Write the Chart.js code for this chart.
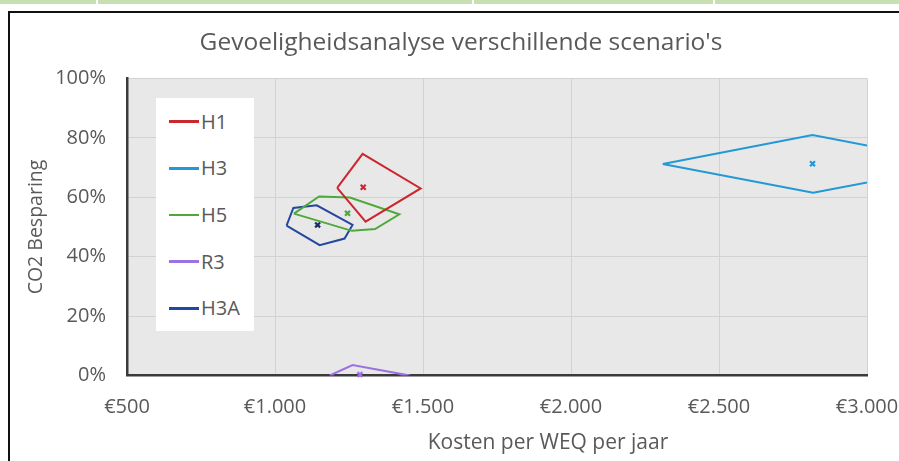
<!DOCTYPE html>
<html>
<head>
<meta charset="utf-8">
<script src="https://cdn.jsdelivr.net/npm/chart.js@4/dist/chart.umd.min.js"></script>
<style>
  html, body { margin: 0; padding: 0; background: #fff; }
  #wrap   { position: relative; width: 899px; height: 461px; overflow: hidden; }
  #strip  { position: absolute; left: 0; top: 0; width: 899px; height: 4px; background: #c6e0b4; }
  .sep    { position: absolute; top: 0; width: 2px; height: 4px; background: #fff; }
  #frame  { position: absolute; left: 8px; top: 11px; width: 1000px; height: 1000px;
            border-left: 2px solid #111; border-top: 2px solid #111; pointer-events: none; }
  #chart  { position: absolute; left: 0; top: 0; }
  #legend { position: absolute; left: 156px; top: 98px; width: 98px; height: 233px; background: #fff;
            font-family: 'Open Sans', sans-serif; font-size: 20px; color: #595959; }
  .item   { position: absolute; left: 13px; height: 24px; line-height: 24px; display: flex; align-items: center; }
  .item i { display: inline-block; width: 30px; height: 2.5px; margin-right: 2px; }
</style>
</head>
<body>
<div id="wrap">
  <div id="strip"></div>
  <div class="sep" style="left:96px"></div>
  <div class="sep" style="left:472px"></div>
  <div class="sep" style="left:713px"></div>
  <canvas id="chart" width="899" height="461"></canvas>
  <div id="frame"></div>
  <div id="legend"></div>
</div>
<script>
// ── Gevoeligheidsanalyse: kosten per WEQ vs CO2 besparing ────────────────
const TITLE   = "Gevoeligheidsanalyse verschillende scenario's";
const X_TITLE = 'Kosten per WEQ per jaar';
const Y_TITLE = 'CO2 Besparing';

const X_MIN = 500, X_MAX = 3000, X_STEP = 500;
const Y_MIN = 0,   Y_MAX = 100,  Y_STEP = 20;

// omtrek (gesloten polygoon) per scenario
const H1_X  = [1210, 1296, 1492, 1306, 1210];
const H1_Y  = [63.2, 74.6, 63.0, 51.8, 63.2];
const H3_X  = [2310, 2816, 3327, 2818, 2310];
const H3_Y  = [71.2, 81.0, 71.2, 61.5, 71.2];
const H5_X  = [1064, 1149, 1253, 1420, 1338, 1260, 1064];
const H5_Y  = [54.5, 60.3, 59.9, 54.3, 49.3, 48.7, 54.5];
const R3_X  = [1185, 1262, 1445, 1300, 1185];
const R3_Y  = [0.0, 3.5, 0.2, -3.5, 0.0];
const H3A_X = [1039, 1062, 1141, 1262, 1235, 1151, 1039];
const H3A_Y = [50.5, 56.4, 57.3, 50.7, 46.1, 43.9, 50.5];

// middelpunt per scenario
const SCEN  = ['H1', 'H3', 'H5', 'R3', 'H3A'];
const MID_X = [1298, 2816, 1245, 1287, 1144];
const MID_Y = [63.4, 71.3, 54.6, 0.3, 50.7];

const COLORS     = ['#c8282e', '#2299d4', '#4fa83a', '#9b72e2', '#2448a0'];
const MID_COLORS = ['#c8282e', '#2299d4', '#4fa83a', '#9b72e2', '#1c2b5a'];
const TEXT_COLOR = '#595959';
const FONT       = "'Open Sans', sans-serif";

const OUTLINES = [[H1_X, H1_Y], [H3_X, H3_Y], [H5_X, H5_Y], [R3_X, R3_Y], [H3A_X, H3A_Y]];

const toPts = (xs, ys) => xs.map((x, i) => ({ x, y: ys[i] }));
const euro  = v => '€' + String(v).replace(/\B(?=(\d{3})+(?!\d))/g, '.');

const datasets = [];
SCEN.forEach((name, i) => {
  datasets.push({
    label:       name,
    data:        toPts(OUTLINES[i][0], OUTLINES[i][1]),
    showLine:    true,
    borderColor: COLORS[i],
    borderWidth: 2,
    pointRadius: 0,
    tension:     0,
    clip:        0
  });
});
SCEN.forEach((name, i) => {
  datasets.push({
    label:           name + ' midden',
    data:            [{ x: MID_X[i], y: MID_Y[i] }],
    showLine:        false,
    pointStyle:      'crossRot',
    pointRadius:     3.5,
    borderColor:     MID_COLORS[i],
    backgroundColor: MID_COLORS[i],
    borderWidth:     2.2,
    clip:            4
  });
});

const plotBg = {
  id: 'plotBg',
  beforeDraw(chart) {
    const { ctx, chartArea: a } = chart;
    ctx.save();
    ctx.fillStyle = '#e8e8e8';
    ctx.fillRect(a.left, a.top, a.right - a.left, a.bottom - a.top);
    ctx.restore();
  }
};

// grafiektitel en x-as titel, gecentreerd zoals in het Excel-origineel
const titles = {
  id: 'titles',
  afterDraw(chart) {
    const { ctx } = chart;
    ctx.save();
    ctx.fillStyle = TEXT_COLOR;
    ctx.textAlign = 'center';
    ctx.textBaseline = 'middle';
    ctx.font = `24.5px ${FONT}`;
    ctx.fillText(TITLE, 461, 43);
    ctx.font = `21px ${FONT}`;
    ctx.fillText(X_TITLE, 548, 443);
    ctx.restore();
  }
};

const chart = new Chart(document.getElementById('chart'), {
  type: 'scatter',
  data: { datasets },
  plugins: [plotBg, titles],
  options: {
    responsive: false,
    animation:  false,
    layout:     { padding: { left: 0, right: 32, top: 78.5, bottom: 0 } },
    plugins: {
      legend:  { display: false },
      tooltip: { enabled: false }
    },
    scales: {
      x: {
        type: 'linear', min: X_MIN, max: X_MAX,
        ticks:  { stepSize: X_STEP, autoSkip: false, maxRotation: 0, padding: 20,
                  color: TEXT_COLOR, font: { family: FONT, size: 20 }, callback: v => euro(v) },
        grid:   { color: '#d2d2d2', drawTicks: false },
        border: { color: '#3a3a3a', width: 2.5 },
        afterFit(s) { s.height = 85.5; s.paddingLeft = 0; s.paddingRight = 0; }
      },
      y: {
        min: Y_MIN, max: Y_MAX,
        ticks:  { stepSize: Y_STEP, padding: 21, color: TEXT_COLOR,
                  font: { family: FONT, size: 20 }, callback: v => v + '%' },
        grid:   { color: '#d2d2d2', drawTicks: false },
        border: { color: '#3a3a3a', width: 2.5 },
        title:  { display: true, text: Y_TITLE, color: TEXT_COLOR,
                  font: { family: FONT, size: 19.5 }, padding: { top: 24.3, bottom: 0 } },
        afterFit(s) { s.width = 127; s.paddingTop = 0; s.paddingBottom = 0; }
      }
    }
  }
});

// legenda binnen het plotvlak
const legend = document.getElementById('legend');
const ROW_Y = [23.7, 70.3, 117, 163.7, 210.3];
SCEN.forEach((name, i) => {
  const row = document.createElement('div');
  row.className = 'item';
  row.style.top = (ROW_Y[i] - 12) + 'px';
  row.innerHTML = `<i style="background:${COLORS[i]}"></i>${name}`;
  legend.appendChild(row);
});
</script>
</body>
</html>
